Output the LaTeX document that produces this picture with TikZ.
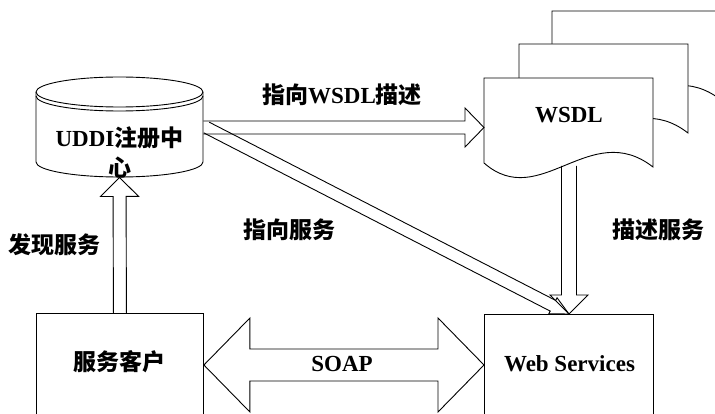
\documentclass[tikz,border=0pt]{standalone}
\usepackage{fontspec}
\setmainfont{Liberation Serif}
\newfontfamily\zhfont{Noto Sans CJK SC}
\usetikzlibrary{calc,positioning}

% hollow block arrow: tail, tip, shaft half width, head half width, head length
\newcommand\hollowarrow[5]{%
  \coordinate (ha-base) at ($(#2)!#5!(#1)$);
  \draw ($(#1)!#3!90:(#2)$) -- ($(ha-base)!#3!90:(#2)$) -- ($(ha-base)!#4!90:(#2)$) -- (#2)
    -- ($(ha-base)!#4!-90:(#2)$) -- ($(ha-base)!#3!-90:(#2)$) -- ($(#1)!#3!-90:(#2)$);
}
% same, with a head at both ends
\newcommand\hollowdblarrow[5]{%
  \coordinate (hb-a) at ($(#1)!#5!(#2)$);
  \coordinate (hb-b) at ($(#2)!#5!(#1)$);
  \draw (#1) -- ($(hb-a)!#4!90:(#2)$) -- ($(hb-a)!#3!90:(#2)$) -- ($(hb-b)!#3!90:(#2)$)
    -- ($(hb-b)!#4!90:(#2)$) -- (#2) -- ($(hb-b)!#4!-90:(#2)$) -- ($(hb-b)!#3!-90:(#2)$)
    -- ($(hb-a)!#3!-90:(#2)$) -- ($(hb-a)!#4!-90:(#2)$) -- cycle;
}

\begin{document}
\begin{tikzpicture}[x=1pt, y=-1pt, line width=0.9pt,
  lbl/.style={font=\fontsize{23}{30}\selectfont\bfseries},
  box/.style={draw, minimum width=167pt, minimum height=140pt, anchor=north west}]
	\useasboundingbox (0,0) rectangle (715,414);
	\clip (0,0) rectangle (715,414);

	% UDDI registry (cylinder)
	\draw (36,92) -- (36,162) arc[start angle=180, end angle=360, x radius=83.5pt, y radius=15pt]
		-- (203,92) arc[start angle=0, end angle=180, x radius=83.5pt, y radius=15pt] -- cycle;
	\draw (36,92) arc[start angle=180, end angle=360, x radius=83.5pt, y radius=15pt];
	\draw (36,96) arc[start angle=180, end angle=360, x radius=83.5pt, y radius=15pt];
	\node[minimum width=167pt, minimum height=99pt] (uddi) at (119.5,127.5) {};
	\node[lbl, align=center] at (119.5,152) {UDDI{\zhfont 注册中}\\{\zhfont 心}};

	% stacked WSDL documents
	\foreach \dx/\dy in {68/-67, 35/-34, 0/0}
		\draw[fill=white, shift={(\dx,\dy)}] (484,163) -- (484,78) -- (653,78) -- (653,167)
			.. controls (590,118) and (540,212) .. (484,163) -- cycle;
	\node[lbl, minimum width=169pt, minimum height=74pt, anchor=north west] (wsdl) at (484,78) {WSDL};

	\node[box] (client) at (36,313) {};
	\node[lbl] at (119.5,362) {\zhfont 服务客户};
	\node[box, minimum width=169pt] (ws) at (484,314) {};
	\node[lbl] at (569.5,364) {Web Services};

	\node[lbl] at (55,245) {\zhfont 发现服务};
	\node[lbl] at (342,95) {{\zhfont 指向}WSDL{\zhfont 描述}};
	\node[lbl] at (289,230) {\zhfont 指向服务};
	\node[lbl] at (658,230) {\zhfont 描述服务};
	\node[lbl] at (342,364) {SOAP};

	\coordinate (wsdl-out) at ([yshift=-13pt]wsdl.south);
	\coordinate (wsdl-in) at (uddi.east -| wsdl.west);
	\coordinate (ws-top) at (wsdl.south |- ws.north);
	\coordinate (uddi-out) at ([xshift=3pt]uddi.east);
	\coordinate (soap-l) at ([yshift=-52pt]client.north east);
	\coordinate (soap-r) at (soap-l -| ws.west);

	\hollowarrow{client.north}{uddi.south}{6.5pt}{19pt}{19pt}
	\hollowarrow{uddi.east}{wsdl-in}{6.5pt}{19.5pt}{19pt}
	\hollowarrow{uddi-out}{ws-top}{6pt}{9pt}{18pt}
	\hollowarrow{wsdl-out}{ws-top}{7.5pt}{19pt}{19pt}
	\hollowdblarrow{soap-l}{soap-r}{16pt}{47pt}{46pt}
\end{tikzpicture}
\end{document}
